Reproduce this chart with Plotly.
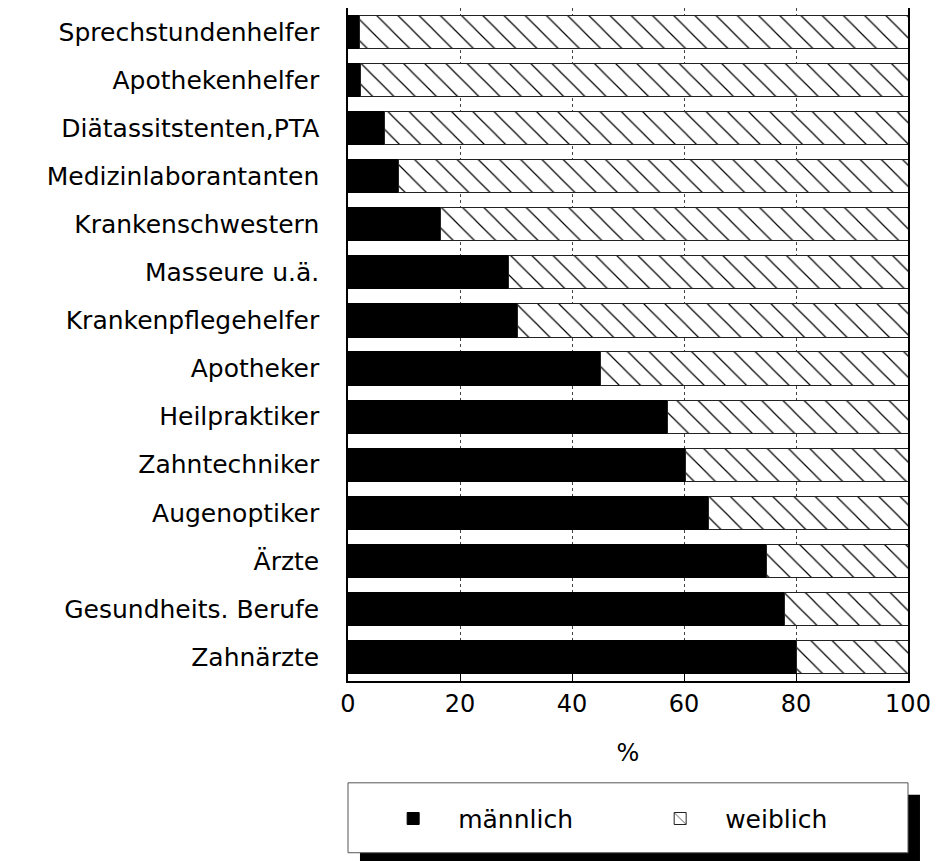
import plotly.graph_objects as go

categories = ["Sprechstundenhelfer", "Apothekenhelfer", "Diätassitstenten,PTA",
              "Medizinlaborantanten", "Krankenschwestern", "Masseure u.ä.",
              "Krankenpflegehelfer", "Apotheker", "Heilpraktiker", "Zahntechniker",
              "Augenoptiker", "Ärzte", "Gesundheits. Berufe", "Zahnärzte"]
maennlich = [2.0, 2.3, 6.6, 9.0, 16.5, 28.7, 30.2, 45.1, 57.1, 60.3, 64.4, 74.7, 78.0, 80.0]
weiblich = [98.0, 97.7, 93.4, 91.0, 83.5, 71.3, 69.8, 54.9, 42.9, 39.7, 35.6, 25.3, 22.0, 20.0]
x_ticks = [0, 20, 40, 60, 80, 100]

FONT = "DejaVu Sans"

fig = go.Figure()
fig.add_trace(go.Bar(
    y=categories, x=maennlich, orientation="h", name="männlich",
    marker=dict(color="black", line=dict(color="black", width=1)),
))
fig.add_trace(go.Bar(
    y=categories, x=weiblich, orientation="h", name="weiblich",
    marker=dict(color="white", line=dict(color="#222222", width=1),
                pattern=dict(shape="\\", fgcolor="black", bgcolor="white",
                             fgopacity=1, size=15, solidity=0.08)),
))

# legend frame + shadow (paper coords)
fig.add_shape(type="rect", xref="paper", yref="paper",
              x0=0.0214, x1=1.0214, y0=-0.32, y1=-0.169,
              fillcolor="black", line=dict(width=0), layer="above")
fig.add_shape(type="rect", xref="paper", yref="paper",
              x0=0.0, x1=1.0, y0=-0.2552, y1=-0.1513,
              fillcolor="white", line=dict(color="#555555", width=1), layer="above")

fig.update_layout(
    width=938, height=861,
    margin=dict(l=340, r=38, t=0, b=188, autoexpand=False),
    paper_bgcolor="white", plot_bgcolor="white",
    barmode="stack", bargap=0.31,
    font=dict(family=FONT, size=24, color="black"),
    showlegend=True,
    legend=dict(orientation="h", x=0.036, xanchor="left", y=-0.2047, yanchor="middle",
                bgcolor="rgba(0,0,0,0)", borderwidth=0,
                font=dict(family=FONT, size=25, color="black"),
                entrywidth=172, entrywidthmode="pixels", itemwidth=80,
                traceorder="normal"),
    xaxis=dict(range=[0, 100], tickvals=x_ticks, ticktext=[str(v) for v in x_ticks],
               ticks="inside", ticklen=8, tickcolor="black", tickwidth=1,
               showline=True, linecolor="black", linewidth=1.5, mirror=True,
               showgrid=True, gridcolor="#444444", griddash="dot", gridwidth=1,
               zeroline=False, fixedrange=True, automargin=False,
               title=dict(text="%", standoff=28, font=dict(family=FONT, size=24))),
    yaxis=dict(categoryorder="array", categoryarray=categories, autorange="reversed",
               showline=True, linecolor="black", linewidth=1.5, mirror=True,
               ticks="", ticklabelstandoff=22, showgrid=False, zeroline=False,
               automargin=False, tickfont=dict(family=FONT, size=25)),
)

fig.write_html("out.html")
